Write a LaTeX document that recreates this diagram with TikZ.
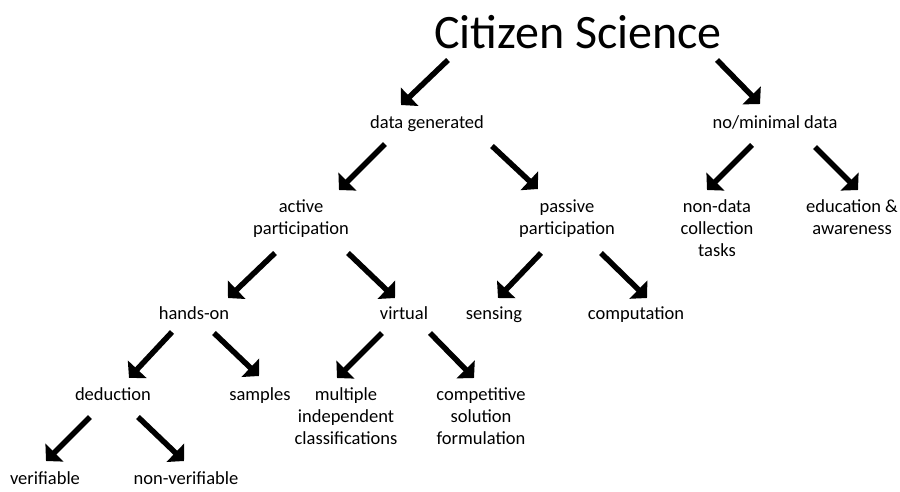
\documentclass[tikz,border=0pt]{standalone}
\usepackage{fontspec}
\setmainfont{Carlito}
\usetikzlibrary{arrows.meta}
\begin{document}
\begin{tikzpicture}[x=1pt,y=-1pt,
  lbl/.style={inner sep=0pt,align=center,text depth=4pt,font=\fontsize{18.5}{21.6}\selectfont},
  one/.style={lbl,text height=13pt},
  arr/.style={line width=5.5pt,-{Triangle[length=12pt,width=25pt]}}]
\useasboundingbox[fill=white] (0,0) rectangle (900,491);
\node[inner sep=0pt,font=\fontsize{48}{56}\selectfont] (cs) at (578,32) {Citizen Science};
\node[one] (dg) at (427,124) {data generated};
\node[one] (nm) at (775,124) {no/minimal data};
\node[lbl] (ap) at (301,219) {active\\participation};
\node[lbl] (pp) at (567,219) {passive\\participation};
\node[lbl] (nd) at (717,230) {non-data\\collection\\tasks};
\node[lbl] (ea) at (852,219) {education \&\\awareness};
\node[one] (ho) at (194,315) {hands-on};
\node[one] (vi) at (404,315) {virtual};
\node[one] (se) at (494,315) {sensing};
\node[one] (co) at (636,315) {computation};
\node[one] (de) at (113,396) {deduction};
\node[one] (sa) at (260,396) {samples};
\node[lbl] (mi) at (346,418) {multiple\\independent\\classifications};
\node[lbl] (cp) at (481,418) {competitive\\solution\\formulation};
\node[one] (ve) at (45,480) {verifiable};
\node[one] (nv) at (186,480) {non-verifiable};
% arrow end points
\coordinate (cs1) at (448,60);  \coordinate (dg0) at (401,105);
\coordinate (cs2) at (717,60);  \coordinate (nm0) at (760,104);
\coordinate (dg1) at (385,144); \coordinate (ap0) at (339,190);
\coordinate (dg2) at (492,146); \coordinate (pp0) at (538,189);
\coordinate (nm1) at (752,145); \coordinate (nd0) at (707,190);
\coordinate (nm2) at (815,147); \coordinate (ea0) at (858,190);
\coordinate (ap1) at (275,253); \coordinate (ho0) at (228,298);
\coordinate (ap2) at (348,253); \coordinate (vi0) at (395,298);
\coordinate (pp1) at (541,253); \coordinate (se0) at (498,298);
\coordinate (pp2) at (601,253); \coordinate (co0) at (647,298);
\coordinate (ho1) at (172,332); \coordinate (de0) at (129,378);
\coordinate (ho2) at (214,333); \coordinate (sa0) at (259,376);
\coordinate (vi1) at (382,333); \coordinate (mi0) at (337,378);
\coordinate (vi2) at (430,333); \coordinate (cp0) at (474,378);
\coordinate (de1) at (90,417);  \coordinate (ve0) at (46,461);
\coordinate (de2) at (138,417); \coordinate (nv0) at (184,461);
\foreach \a/\b in {cs1/dg0,cs2/nm0,dg1/ap0,dg2/pp0,nm1/nd0,nm2/ea0,ap1/ho0,ap2/vi0,pp1/se0,pp2/co0,ho1/de0,ho2/sa0,vi1/mi0,vi2/cp0,de1/ve0,de2/nv0}
  \draw[arr] (\a) -- (\b);
\end{tikzpicture}
\end{document}
